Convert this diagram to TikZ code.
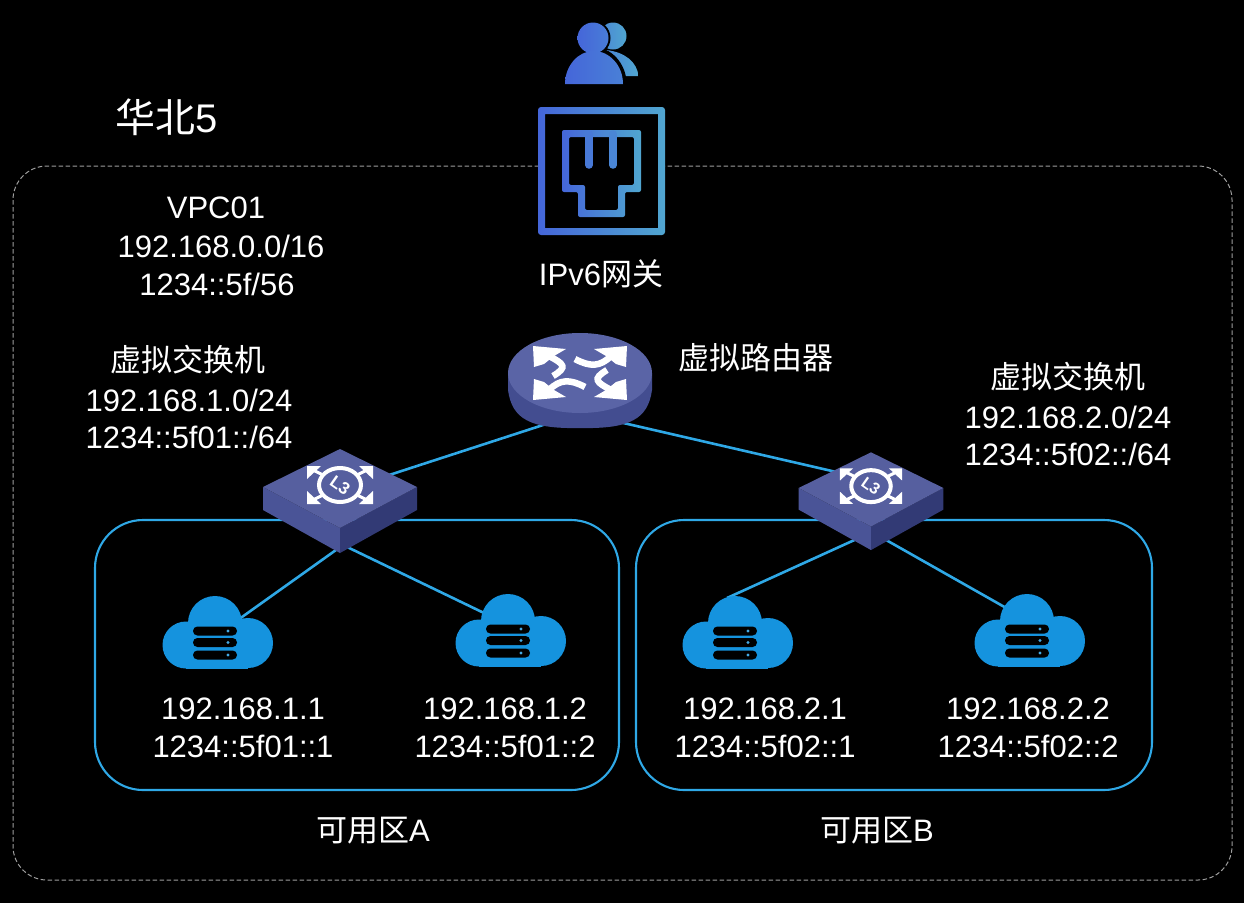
\documentclass[tikz,border=0pt]{standalone}
\usepackage{fontspec}
\setmainfont{Liberation Sans}
\newfontfamily\cjk{Noto Sans CJK SC}
\definecolor{linkblue}{HTML}{2FA8E6}
\definecolor{cloudblue}{HTML}{1593DE}
\definecolor{gradl}{HTML}{4566D9}
\definecolor{gradm}{HTML}{4A86D6}
\definecolor{gradr}{HTML}{50A6D0}
\definecolor{swtop}{HTML}{565F9F}
\definecolor{swleft}{HTML}{4A5497}
\definecolor{swright}{HTML}{323A75}
\definecolor{rttop}{HTML}{5A64A6}
\definecolor{rtside}{HTML}{434D90}
\tikzset{
  every node/.style={text=white,inner sep=0pt,align=center},
  txt/.style={font=\fontsize{31}{36}\selectfont},
  title/.style={font=\fontsize{40}{44}\selectfont},
  link/.style={draw=linkblue,line width=2.6pt},
  zone/.style={draw=linkblue,line width=2.1pt,rounded corners=48pt},
  region/.style={draw=white!62!black,line width=1pt,dash pattern=on 4.5pt off 2.5pt,rounded corners=34pt},
  grad/.style={left color=gradl,right color=gradr,even odd rule},
  cloudicon/.pic={
    \fill[cloudblue] (-2,-9) circle[radius=27];
    \fill[cloudblue] (-31,13) circle[radius=23.5];
    \fill[cloudblue] (31,11) circle[radius=25];
    \fill[cloudblue] (-31,5) rectangle (31,36.5);
    \foreach \yy in {-1,10.5,23}{
      \fill[black,rounded corners=4.4pt] (-24,\yy-4.5) rectangle (20,\yy+4.5);
      \fill[cloudblue!80!white] (11,\yy) circle[radius=1.6];
    }
  },
  switchicon/.pic={
    \fill[swleft]  (-77,0) -- (0,41) -- (0,66) -- (-77,23) -- cycle;
    \fill[swright] (77,0) -- (0,41) -- (0,66) -- (77,23) -- cycle;
    \fill[swtop]   (-77,0) -- (0,-38) -- (77,0) -- (0,41) -- cycle;
    \draw[white,line width=4pt] (0,-2) ellipse[x radius=21,y radius=17];
    \foreach \sx/\sy in {-1/-1,1/-1,-1/1,1/1}{
      \draw[white,line width=3pt] (\sx*17,\sy*10-2) -- (\sx*31,\sy*17-2);
      \fill[white] (\sx*33,\sy*19-2) -- (\sx*19,\sy*19-2) -- (\sx*33,\sy*6-2) -- cycle;
    }
    \node[font=\fontsize{17}{17}\selectfont\bfseries,rotate=-35,transform shape] at (0,-2) {L3};
  },
  routericon/.pic={
    \fill[rtside] (-72,0) -- (-72,17) .. controls (-68,46) and (-50,56) .. (0,55) .. controls (50,56) and (68,46) .. (72,17) -- (72,0) -- cycle;
    \fill[rttop] (0,0) ellipse[x radius=72,y radius=40];
    \foreach \sx/\sy in {-1/-1,1/-1,-1/1,1/1}
      \fill[white] (\sx*47,\sy*27) -- (\sx*14,\sy*24) -- (\sx*26,\sy*17) -- (\sx*36,\sy*9) -- (\sx*46,\sy*6) -- cycle;
    \draw[white,line width=6.5pt] (-31,-17) .. controls (-16,-9) and (-12,-6) .. (-27,3);
    \draw[white,line width=6.5pt] (31,-17) .. controls (20,-6) and (10,-6) .. (-5,-14);
    \draw[white,line width=6.5pt] (-31,17) .. controls (-20,6) and (-10,6) .. (5,14);
    \draw[white,line width=6.5pt] (31,17) .. controls (16,9) and (12,6) .. (27,-3);
  }
}
\begin{document}
\begin{tikzpicture}[x=1pt,y=-1pt]
  \useasboundingbox[fill=black] (0,0) rectangle (1244,903);

  % region and availability zones
  \draw[region] (13,166) rectangle (1232,880);
  \draw[zone] (95,520) rectangle (619,790);
  \draw[zone] (636,520) rectangle (1152,790);

  % attachment points of the links
  \coordinate (rthub) at (580,413);
  \coordinate (swahub) at (340,491);
  \coordinate (swbhub) at (871,480);
  \coordinate (swalow) at (343,545);
  \coordinate (swblow) at (872,532);
  \coordinate (vma1) at (235,622);
  \coordinate (vma2) at (484,613);
  \coordinate (vmb1) at (727,598);
  \coordinate (vmb2) at (1008,609);

  \draw[link] (rthub) -- (swahub);
  \draw[link] (rthub) -- (swbhub);
  \draw[link] (swalow) -- (vma1);
  \draw[link] (swalow) -- (vma2);
  \draw[link] (swblow) -- (vmb1);
  \draw[link] (swblow) -- (vmb2);

  % users
  \shade[left color=gradm,right color=gradr] (613,36) circle[radius=13.5];
  \shade[left color=gradm,right color=gradr] (606,50) .. controls (625,52) and (637,62) .. (638.5,76) -- (625,76) -- (606,60) -- cycle;
  \fill[black] (593,38) circle[radius=17.5];
  \fill[black] (561,87) -- (561,65) .. controls (570,50) and (582,47) .. (593.5,47) .. controls (610,47) and (627,62) .. (627,87) -- cycle;
  \shade[left color=gradl,right color=gradm!70!gradl] (593,38) circle[radius=15.5];
  \shade[left color=gradl,right color=gradm!80!gradl] (565,84) .. controls (565,66) and (578,51) .. (593.5,51) .. controls (610,51) and (623,66) .. (623,84) -- cycle;

  % gateway
  \fill[black] (538,107) rectangle (665,235);
  \path[grad] (538,107) [rounded corners=3pt] rectangle (665,235) (545,114) [sharp corners] rectangle (658,228);
  \path[grad,rounded corners=2pt] (562,130) -- (641,130) -- (641,192) -- (625,192) -- (625,217) -- (578,217) -- (578,192) -- (562,192) -- cycle
    (569,137) -- (569,185) -- (585,185) -- (585,210) -- (618,210) -- (618,185) -- (634,185) -- (634,137) -- cycle;
  \draw[gradm!60!gradl,line width=7.5pt,line cap=round] (589,134) -- (589,165);
  \draw[gradm,line width=7.5pt,line cap=round] (613,134) -- (613,165);

  % network devices
  \pic at (580,373) {routericon};
  \pic at (340,487) {switchicon};
  \pic[scale=.94,transform shape] at (871,488) {switchicon};

  % cloud servers
  \pic at (217,632) {cloudicon};
  \pic at (510,630) {cloudicon};
  \pic at (737,632) {cloudicon};
  \pic at (1029,630) {cloudicon};

  % labels
  \node[title] (regionname) at (167,117) {{\cjk 华北}5};
  \node[txt] (vpcname) at (216,208) {VPC01};
  \node[txt] (vpcfour) at (221,246) {192.168.0.0/16};
  \node[txt] (vpcsix) at (217,284) {1234::5f/56};
  \node[txt] (gwlabel) at (601,274) {IPv6{\cjk 网关}};
  \node[txt] (rtlabel) at (756,358) {\cjk 虚拟路由器};
  \node[txt] (swaname) at (188,360) {\cjk 虚拟交换机};
  \node[txt] (swanet) at (189,419) {192.168.1.0/24\\[1.5pt]1234::5f01::/64};
  \node[txt] (swbname) at (1068,377) {\cjk 虚拟交换机};
  \node[txt] (swbnet) at (1068,436) {192.168.2.0/24\\[1.5pt]1234::5f02::/64};
  \node[txt] (a1label) at (243,728) {192.168.1.1\\[1.5pt]1234::5f01::1};
  \node[txt] (a2label) at (505,728) {192.168.1.2\\[1.5pt]1234::5f01::2};
  \node[txt] (b1label) at (765,728) {192.168.2.1\\[1.5pt]1234::5f02::1};
  \node[txt] (b2label) at (1028,728) {192.168.2.2\\[1.5pt]1234::5f02::2};
  \node[txt] (zonea) at (373,831) {{\cjk 可用区}A};
  \node[txt] (zoneb) at (877,831) {{\cjk 可用区}B};
\end{tikzpicture}
\end{document}
